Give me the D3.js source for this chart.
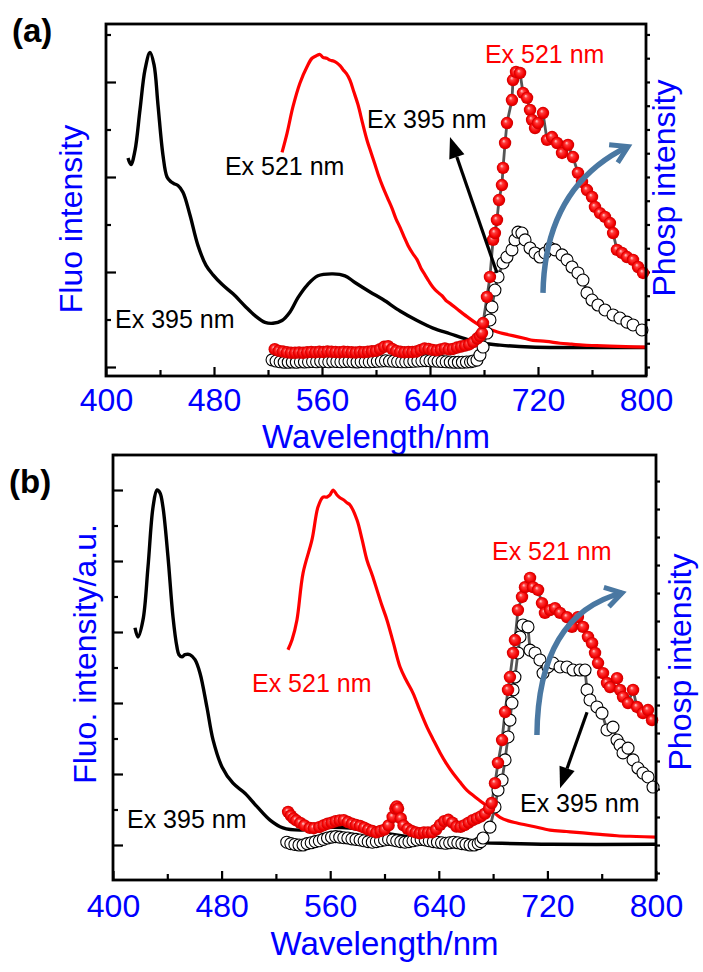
<!DOCTYPE html>
<html>
<head>
<meta charset="utf-8">
<script src="https://cdn.jsdelivr.net/npm/d3@7"></script>
<style>
  body { margin: 0; background: #fff; }
  svg { display: block; font-family: "Liberation Sans", Arial, sans-serif; }
</style>
</head>
<body>
<div class="chart"></div>
<script>
// ---- data: [wavelength nm, intensity a.u.] ----
const xTicks = [400, 480, 560, 640, 720, 800]
const xMinor = [440, 520, 600, 680, 760]

// panel (a)
const aFluo395 = [[416.3,2.20],[418.5,2.13],[421.5,2.28],[425.2,2.71],[428.9,3.13],[432.6,3.31],[435.6,3.18],[438.5,2.76],[442.2,2.23],[445.2,2.00],[448.1,1.95],[450.4,1.93],[453.3,1.91],[457.0,1.84],[462.2,1.60],[468.1,1.28],[474.1,1.07],[479.3,0.97],[485.9,0.87],[494.1,0.77],[503.0,0.64],[510.4,0.54],[517.8,0.47],[523.7,0.46],[530.4,0.49],[536.3,0.58],[542.2,0.73],[548.9,0.86],[557.0,0.96],[568.1,0.98],[577.0,0.96],[584.4,0.89],[595.6,0.79],[605.2,0.71],[617.8,0.59],[630.4,0.49],[642.2,0.41],[654.8,0.35],[667.4,0.29],[679.3,0.25],[691.9,0.23],[714.1,0.21],[743.7,0.205],[800,0.205]]
const aFluo521 = [[530.4,2.26],[534.1,2.46],[538.5,2.74],[543.7,2.99],[548.9,3.16],[552.6,3.25],[556.3,3.28],[558.5,3.29],[560.7,3.26],[563.5,3.25],[565.9,3.23],[568.5,3.22],[571.1,3.20],[573.5,3.17],[575.6,3.13],[578.0,3.09],[580.7,3.02],[583.5,2.90],[586.7,2.76],[590.0,2.57],[593.3,2.39],[596.0,2.27],[599.3,2.13],[602.0,2.01],[605.2,1.89],[608.5,1.78],[611.9,1.67],[614.8,1.56],[617.8,1.47],[620.8,1.37],[623.7,1.28],[627.0,1.20],[630.4,1.13],[633.3,1.04],[636.3,0.97],[639.3,0.90],[642.2,0.84],[645.5,0.79],[648.9,0.75],[651.8,0.70],[654.8,0.67],[661.0,0.60],[667.4,0.53],[673.3,0.47],[679.3,0.42],[685.5,0.39],[691.9,0.36],[698.0,0.34],[704.4,0.32],[710.5,0.30],[716.3,0.28],[726.0,0.27],[736.3,0.25],[745.0,0.24],[753.3,0.23],[763.0,0.225],[773.3,0.22],[785.0,0.215],[800,0.21]]
const aPhos521 = [[525,0.75],[528,0.68],[531,0.65],[534,0.62],[537,0.60],[540,0.60],[543,0.61],[546,0.60],[549,0.62],[552,0.63],[555,0.62],[558,0.64],[561,0.63],[564,0.65],[567,0.64],[570,0.63],[573,0.62],[576,0.64],[579,0.63],[582,0.62],[585,0.61],[588,0.63],[591,0.62],[594,0.64],[597,0.66],[600,0.68],[603,0.75],[606,0.85],[609,0.88],[612,0.76],[615,0.68],[618,0.64],[621,0.62],[624,0.63],[627,0.63],[630,0.65],[633,0.72],[636,0.78],[639,0.76],[642,0.72],[645,0.70],[648,0.74],[651,0.78],[654,0.74],[657,0.76],[660,0.82],[663,0.86],[666,0.90],[669,0.95],[672,1.05],[675,1.20],[677,1.30],[678.5,1.43],[679.3,1.85],[682.2,2.95],[684.4,3.79],[686.7,5.35],[688.1,5.64],[689.6,6.19],[691.1,7.03],[693.3,7.66],[694.1,8.38],[695.6,9.43],[697.0,10.27],[700.7,11.24],[701.5,12.08],[703.7,12.42],[706.7,12.38],[708.9,11.54],[711.9,11.33],[714.1,10.82],[715.6,10.40],[717.8,10.06],[720.0,10.27],[723.7,10.69],[726.7,9.56],[730.4,9.68],[734.1,9.43],[737.8,9.01],[742.2,9.35],[745.9,8.84],[749.6,8.17],[752.6,7.79],[756.3,7.45],[760.0,7.16],[762.2,6.74],[765.9,6.48],[769.6,6.32],[773.3,6.06],[775.6,5.64],[778.5,4.93],[782.2,4.80],[785.9,4.63],[790.4,4.51],[794.1,4.21],[797.8,3.96]]
const aPhos395 = [[523,0.30],[526,0.25],[529,0.22],[532,0.20],[535,0.20],[538,0.21],[541,0.20],[544,0.22],[547,0.21],[550,0.22],[553,0.23],[556,0.22],[559,0.24],[562,0.23],[565,0.22],[568,0.24],[571,0.23],[574,0.22],[577,0.23],[580,0.24],[583,0.22],[586,0.21],[589,0.23],[592,0.22],[595,0.22],[598,0.23],[601,0.24],[604,0.25],[607,0.26],[610,0.25],[613,0.24],[616,0.23],[619,0.22],[622,0.22],[625,0.23],[628,0.24],[631,0.25],[634,0.26],[637,0.27],[640,0.26],[643,0.25],[646,0.24],[649,0.23],[652,0.22],[655,0.21],[658,0.20],[661,0.20],[664,0.20],[667,0.21],[670,0.22],[672,0.25],[674.8,0.29],[677.0,0.50],[679.3,0.84],[682.2,1.43],[684.4,1.98],[685.9,2.53],[688.1,3.24],[690.4,3.79],[694.1,4.38],[697.0,4.63],[700.7,4.93],[703.0,5.35],[705.2,5.68],[708.1,5.64],[710.4,5.35],[714.1,5.01],[717.8,4.80],[721.5,4.63],[725.2,4.80],[728.9,5.01],[732.6,4.93],[737.8,4.72],[741.5,4.51],[745.2,4.21],[749.6,3.96],[753.3,3.66],[756.3,3.12],[760.0,2.82],[764.4,2.61],[769.6,2.40],[775.6,2.19],[780.7,2.06],[785.9,1.89],[790.4,1.77],[797.0,1.56]]

// panel (b)
const bFluo395 = [[416.2,3.06],[418.4,2.93],[422.1,3.17],[425.8,3.92],[429.5,4.76],[432.4,5.00],[434.6,4.96],[436.8,4.76],[440.5,4.06],[444.2,3.21],[447.1,2.79],[448.6,2.68],[450.8,2.65],[453.0,2.68],[456.7,2.68],[460.4,2.61],[464.1,2.42],[469.2,1.94],[473.7,1.48],[480.3,1.10],[488.4,0.87],[497.2,0.73],[506.1,0.54],[515.7,0.35],[525.2,0.24],[537.8,0.21],[550.3,0.24],[562.1,0.25],[574.6,0.24],[598.9,0.17],[623.9,0.10],[648.2,0.04],[672.6,0.03],[721.9,0.01],[800,0.01]]
const bFluo521 = [[528.9,2.75],[531.9,2.89],[535.5,3.17],[540.0,3.83],[546.6,4.30],[551.0,4.76],[554.7,4.90],[557.6,4.90],[559.9,4.93],[562.1,5.00],[565.0,4.93],[567.2,4.89],[570.0,4.86],[572.4,4.82],[574.6,4.79],[579.7,4.58],[583.5,4.30],[587.1,4.01],[591.0,3.80],[594.5,3.59],[598.0,3.38],[601.8,3.17],[606.5,2.85],[611.4,2.51],[616.0,2.32],[621.0,2.14],[626.0,1.90],[631.3,1.66],[636.0,1.48],[640.9,1.30],[645.5,1.15],[650.5,1.01],[655.5,0.89],[660.8,0.77],[666.5,0.68],[672.6,0.59],[678.8,0.49],[685.1,0.39],[691.3,0.34],[697.6,0.31],[709.8,0.26],[721.9,0.21],[734.0,0.19],[746.2,0.17],[758.8,0.15],[771.3,0.13],[785.5,0.12],[800,0.11]]
const bPhos521 = [[529,1.18],[531,1.05],[533,0.95],[535,0.88],[538,0.79],[541,0.70],[545,0.61],[548,0.60],[552,0.64],[555,0.70],[558,0.76],[561,0.80],[564,0.85],[567,0.88],[570,0.89],[573,0.82],[576,0.76],[579,0.72],[582,0.68],[585,0.62],[588,0.55],[591,0.50],[594,0.45],[597,0.50],[600,0.55],[603,0.70],[606,1.00],[608,1.30],[609,1.38],[610,1.30],[612,0.95],[614,0.70],[617,0.58],[620,0.50],[623,0.45],[626,0.42],[629,0.45],[632,0.45],[635,0.45],[638,0.55],[641,0.72],[644,0.85],[647,0.90],[650,0.80],[653,0.66],[656,0.65],[659,0.71],[662,0.80],[665,0.89],[668,0.95],[671,1.02],[674,1.12],[677,1.30],[679,1.50],[681.4,2.21],[683.6,2.93],[686.6,3.75],[688.8,4.75],[691.0,5.54],[692.4,6.00],[694.7,6.86],[696.1,7.32],[698.3,8.39],[701.3,8.86],[703.5,9.21],[707.2,9.54],[709.4,9.21],[713.1,9.11],[716.0,8.64],[718.2,8.29],[721.9,8.39],[725.6,8.46],[729.3,8.29],[734.4,8.14],[738.1,7.79],[742.5,8.14],[746.2,7.79],[749.9,7.43],[752.9,7.21],[755.1,6.86],[757.3,6.50],[761.0,6.14],[763.9,5.79],[766.1,5.64],[771.3,5.96],[773.5,5.54],[775.7,5.29],[779.4,5.07],[783.1,5.54],[786.0,4.93],[790.4,4.71],[794.1,4.82],[797.1,4.46]]
const bPhos395 = [[528,0.10],[531,0.05],[534,0.02],[537,0.00],[540,0.00],[543,0.05],[546,0.08],[549,0.12],[552,0.15],[555,0.20],[558,0.25],[561,0.28],[564,0.30],[567,0.28],[570,0.26],[573,0.25],[576,0.22],[579,0.20],[582,0.18],[585,0.15],[588,0.12],[591,0.10],[594,0.12],[597,0.15],[600,0.18],[603,0.20],[606,0.18],[609,0.15],[612,0.12],[615,0.10],[618,0.12],[621,0.15],[624,0.18],[627,0.20],[630,0.18],[633,0.15],[636,0.12],[639,0.10],[642,0.08],[645,0.06],[648,0.08],[651,0.10],[654,0.08],[657,0.05],[660,0.03],[663,0.00],[666,0.00],[669,0.05],[671,0.12],[672.6,0.25],[677.7,0.64],[681.4,1.36],[683.6,1.96],[686.6,2.32],[688.8,3.04],[691.0,3.86],[692.4,4.46],[693.9,5.07],[694.7,5.54],[696.1,6.00],[698.3,6.86],[699.8,7.43],[702.0,7.86],[705.7,7.79],[707.2,6.96],[710.9,6.86],[714.5,6.61],[716.8,6.14],[720.4,6.36],[724.1,6.50],[729.3,6.36],[734.4,6.36],[738.9,6.25],[744.0,6.25],[747.7,6.25],[749.2,5.54],[751.4,5.18],[756.5,4.93],[760.2,4.71],[763.9,4.11],[768.3,4.21],[771.3,3.75],[773.5,3.57],[775.7,3.29],[779.4,3.46],[783.1,3.04],[786.7,2.75],[790.4,2.57],[794.1,2.43],[797.8,2.07]]

const width = 703
const height = 972

const svg = d3.select('.chart').append('svg')
  .attr('width', width)
  .attr('height', height)

const grad = svg.append('defs').append('radialGradient')
  .attr('id', 'sphere')
  .attr('cx', 0.5).attr('cy', 0.5).attr('r', 0.5)
  .attr('fx', 0.38).attr('fy', 0.33)
grad.append('stop').attr('offset', '0%').attr('stop-color', '#ffd4d4')
grad.append('stop').attr('offset', '30%').attr('stop-color', '#ff3a3a')
grad.append('stop').attr('offset', '75%').attr('stop-color', '#f20000')
grad.append('stop').attr('offset', '100%').attr('stop-color', '#c80000')

function drawPanel(p) {
  const g = svg.append('g')
  const x = d3.scaleLinear().domain([400, 800]).range([p.left, p.right])
  const yL = d3.scaleLinear().domain(p.yL).range([p.bottom, p.top])
  const yR = d3.scaleLinear().domain(p.yR).range([p.bottom, p.top])

  // ticks
  g.append('g').attr('transform', 'translate(' + p.left + ',0)')
    .call(d3.axisRight(yL).tickValues(p.lMajor).tickSize(10).tickFormat(''))
  g.append('g').attr('transform', 'translate(' + p.left + ',0)')
    .call(d3.axisRight(yL).tickValues(p.lMajor.map(d => d + 0.5)).tickSize(5).tickFormat(''))
  g.append('g').attr('transform', 'translate(' + p.right + ',0)')
    .call(d3.axisRight(yR).tickValues(p.rTicks).tickSize(4).tickFormat(''))
  g.append('g').attr('transform', 'translate(0,' + p.bottom + ')')
    .call(d3.axisTop(x).tickValues(xTicks).tickSize(9).tickFormat(''))
  g.append('g').attr('transform', 'translate(0,' + p.bottom + ')')
    .call(d3.axisTop(x).tickValues(xMinor).tickSize(6).tickFormat(''))
  const xl = g.append('g').attr('transform', 'translate(0,' + p.bottom + ')')
    .call(d3.axisBottom(x).tickValues(xTicks).tickSize(0).tickPadding(p.pad).tickFormat(d3.format('d')))
  xl.selectAll('text').attr('fill', '#0000ff').style('font-size', '32px')
    .style('font-family', '"Liberation Sans", Arial, sans-serif')
  g.selectAll('.domain').remove()
  g.selectAll('.tick line').attr('stroke', '#000').attr('stroke-width', 2.2)

  // fluorescence lines
  const lineL = d3.line().x(d => x(d[0])).y(d => yL(d[1])).curve(d3.curveCatmullRom)
  g.append('path').datum(p.fluo395).attr('d', lineL)
    .attr('fill', 'none').attr('stroke', '#000').attr('stroke-width', 3.4)
  g.append('path').datum(p.fluo521).attr('d', lineL)
    .attr('fill', 'none').attr('stroke', '#ff0000').attr('stroke-width', 3.2)

  // phosphorescence
  const lineR = d3.line().x(d => x(d[0])).y(d => yR(d[1]))
  ;[p.phos395, p.phos521].forEach(s => {
    g.append('path').datum(s).attr('d', lineR)
      .attr('fill', 'none').attr('stroke', '#555').attr('stroke-width', 2.8)
  })
  g.append('g').selectAll('circle').data(p.phos395).join('circle')
    .attr('cx', d => x(d[0])).attr('cy', d => yR(d[1])).attr('r', 6)
    .attr('fill', '#fff').attr('stroke', '#000').attr('stroke-width', 1.1)
  g.append('g').selectAll('circle').data(p.phos521).join('circle')
    .attr('cx', d => x(d[0])).attr('cy', d => yR(d[1])).attr('r', 6.2)
    .attr('fill', 'url(#sphere)')

  // frame
  g.append('rect')
    .attr('x', p.left).attr('y', p.top)
    .attr('width', p.right - p.left).attr('height', p.bottom - p.top)
    .attr('fill', 'none').attr('stroke', '#000').attr('stroke-width', 2.8)

  // black arrow
  const a0 = [x(p.kArrow[0][0]), yL(p.kArrow[0][1])]
  const a1 = [x(p.kArrow[1][0]), yL(p.kArrow[1][1])]
  const ang = Math.atan2(a1[1] - a0[1], a1[0] - a0[0])
  const hl = 21, hw = 8
  const base = [a1[0] - hl * Math.cos(ang), a1[1] - hl * Math.sin(ang)]
  g.append('line').attr('x1', a0[0]).attr('y1', a0[1]).attr('x2', base[0]).attr('y2', base[1])
    .attr('stroke', '#000').attr('stroke-width', 3.2)
  g.append('path')
    .attr('d', 'M' + a1 + 'L' + [base[0] + hw * Math.sin(ang), base[1] - hw * Math.cos(ang)] +
      'L' + [base[0] - hw * Math.sin(ang), base[1] + hw * Math.cos(ang)] + 'Z')
    .attr('fill', '#000')

  // blue curved arrow
  const s = [x(p.bArrow[0][0]), yL(p.bArrow[0][1])]
  const c = [x(p.bArrow[1][0]), yL(p.bArrow[1][1])]
  const e = [x(p.bArrow[2][0]), yL(p.bArrow[2][1])]
  g.append('path').attr('d', 'M' + s + 'Q' + c + ' ' + e)
    .attr('fill', 'none').attr('stroke', '#4a78a2').attr('stroke-width', 5.5)
  const ba = Math.atan2(e[1] - c[1], e[0] - c[0])
  const bl = 19
  const w1 = [e[0] - bl * Math.cos(ba - 0.55), e[1] - bl * Math.sin(ba - 0.55)]
  const w2 = [e[0] - bl * Math.cos(ba + 0.55), e[1] - bl * Math.sin(ba + 0.55)]
  g.append('path').attr('d', 'M' + w1 + 'L' + e + 'L' + w2)
    .attr('fill', 'none').attr('stroke', '#4a78a2').attr('stroke-width', 5)
    .attr('stroke-linejoin', 'miter')

  // labels
  p.labels.forEach(l => {
    g.append('text').attr('x', x(l[0])).attr('y', yL(l[1]))
      .attr('fill', l[3]).style('font-size', '25px').text(l[2])
  })

  g.append('text').attr('x', (p.left + p.right) / 2).attr('y', p.xTitleY)
    .attr('text-anchor', 'middle').attr('fill', '#0000ff').style('font-size', '33px')
    .text('Wavelength/nm')
  g.append('text').attr('transform', 'translate(' + p.lTitle[0] + ',' + p.lTitle[1] + ') rotate(-90)')
    .attr('text-anchor', 'middle').attr('fill', '#0000ff').style('font-size', '32px')
    .text(p.lTitleText)
  g.append('text').attr('transform', 'translate(' + p.rTitle[0] + ',' + p.rTitle[1] + ') rotate(-90)')
    .attr('text-anchor', 'middle').attr('fill', '#0000ff').style('font-size', '32px')
    .text('Phosp intensity')
  g.append('text').attr('x', p.tag[0]).attr('y', p.tag[1])
    .style('font-size', '33px').style('font-weight', 'bold').text(p.tag[2])
}

drawPanel({
  left: 106, right: 646, top: 24, bottom: 376, pad: 12,
  yL: [-0.0947, 3.6105], yR: [-0.379, 14.44],
  lMajor: [0, 1, 2, 3], rTicks: d3.range(0, 15),
  fluo395: aFluo395, fluo521: aFluo521, phos395: aPhos395, phos521: aPhos521,
  kArrow: [[689.6, 0.99], [654.8, 2.42]],
  bArrow: [[723.7, 0.78], [725.2, 1.90], [786.7, 2.32]],
  labels: [[680.7, 3.2, 'Ex 521 nm', '#ff0000'], [593.3, 2.52, 'Ex 395 nm', '#000'],
    [488.1, 2.02, 'Ex 521 nm', '#000'], [406.7, 0.41, 'Ex 395 nm', '#000']],
  xTitleY: 448, lTitle: [82, 219], lTitleText: 'Fluo intensity', rTitle: [675, 188],
  tag: [12, 42, '(a)']
})

drawPanel({
  left: 113, right: 656, top: 455, bottom: 880, pad: 14,
  yL: [-0.493, 5.493], yR: [-1.25, 13.93],
  lMajor: [0, 1, 2, 3, 4, 5], rTicks: d3.range(-1, 14),
  fluo395: bFluo395, fluo521: bFluo521, phos395: bPhos395, phos521: bPhos521,
  kArrow: [[749.2, 1.87], [729.3, 0.80]],
  bArrow: [[712.3, 1.55], [713.1, 3.24], [775.0, 3.55]],
  labels: [[679.2, 4.01, 'Ex 521 nm', '#ff0000'], [502.4, 2.15, 'Ex 521 nm', '#ff0000'],
    [410.3, 0.24, 'Ex 395 nm', '#000'], [699.8, 0.46, 'Ex 395 nm', '#000']],
  xTitleY: 955, lTitle: [96, 654], lTitleText: 'Fluo. intensity/a.u.', rTitle: [691, 662],
  tag: [9, 493, '(b)']
})
</script>
</body>
</html>
